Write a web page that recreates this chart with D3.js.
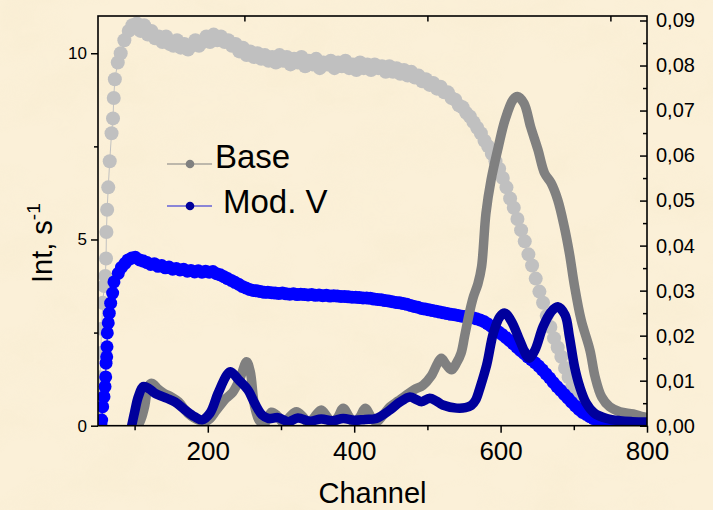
<!DOCTYPE html>
<html>
<head>
<meta charset="utf-8">
<script src="https://cdn.jsdelivr.net/npm/d3@7"></script>
<style>
  html, body { margin: 0; padding: 0; background: #fbf0d9; }
  svg { display: block; font-family: "Liberation Sans", Arial, sans-serif; }
</style>
</head>
<body>
<div id="chart"></div>
<script>
// ---- Tick values ----
const xMajorTicks = [200, 400, 600, 800];
const xMinorTicks = [100, 300, 500, 700];
const xTopTicks = [250, 500, 750];
const leftMajorTicks = [0, 5, 10];
const leftMinorTicks = [2.5, 7.5];
const rightMajorTicks = [0, 0.01, 0.02, 0.03, 0.04, 0.05, 0.06, 0.07, 0.08, 0.09];
const rightMinorTicks = [0.005, 0.015, 0.025, 0.035, 0.045, 0.055, 0.065, 0.075, 0.085];

// ---- Legend ----
const legendLabels = ["Base", "Mod. V"];

// ---- Base spectrum: intensity (s^-1) per channel, left axis ----
const baseChannel = [52, 52.5, 53, 53.5, 55, 56.5, 58.5, 60, 61, 61.5, 62.5, 64, 66, 68.5, 70.5, 71.5, 73, 77, 81, 86, 92, 97, 103,
  108, 113, 118, 123, 128, 133, 138, 143, 148, 153, 158, 163, 168, 173, 178, 183, 188, 193, 198, 203, 208, 213, 218, 223, 228, 233, 238, 243, 248,
  253, 258, 263, 268, 273, 278, 283, 288, 293, 298, 303, 308, 313, 318, 323, 328, 333, 338, 343, 348, 353, 358, 363, 368, 373, 378, 383, 388, 393, 398,
  403, 408, 413, 418, 423, 428, 433, 438, 443, 448, 453, 458, 463, 468, 473, 478, 483, 488, 493, 498, 503, 508, 513, 518, 523, 528, 533, 538, 543, 548,
  553, 558, 563, 568, 573, 578, 583, 588, 593, 598, 603, 608, 613, 618, 623, 628, 633, 638, 643, 648, 653, 658, 663, 668, 673, 678, 683, 688, 693, 698,
  703, 708, 713, 718, 723, 728, 733, 738, 743, 748, 753, 760, 770, 780, 790, 800];
const baseIntensity = [0.2, 0.8, 1.3, 1.95, 2.6, 3.3, 3.75, 4.02, 4.49, 5.2, 5.8, 6.4, 7.1, 7.85, 8.25, 8.8, 9.3, 9.75, 10.0, 10.35, 10.6, 10.75, 10.8,
  10.6, 10.75, 10.5, 10.6, 10.4, 10.45, 10.3, 10.45, 10.25, 10.2, 10.35, 10.15, 10.25, 10.1, 10.2, 10.35, 10.2, 10.3, 10.45, 10.3, 10.5, 10.35, 10.45, 10.3, 10.35, 10.2, 10.25, 10.05, 10.15,
  9.95, 10.05, 9.9, 10.0, 9.85, 9.95, 9.8, 9.9, 9.75, 9.95, 9.8, 9.9, 9.7, 9.85, 9.75, 9.9, 9.65, 9.8, 9.7, 9.85, 9.6, 9.75, 9.7, 9.8, 9.6, 9.75, 9.65, 9.8, 9.6, 9.7,
  9.55, 9.75, 9.6, 9.7, 9.55, 9.7, 9.6, 9.65, 9.5, 9.65, 9.5, 9.6, 9.45, 9.55, 9.4, 9.5, 9.35, 9.4, 9.25, 9.3, 9.15, 9.2, 9.05, 9.1, 8.95, 8.95, 8.8, 8.75, 8.6, 8.55,
  8.4, 8.3, 8.15, 8.0, 7.85, 7.65, 7.5, 7.3, 7.1, 6.9, 6.65, 6.4, 6.1, 5.85, 5.55, 5.25, 4.95, 4.6, 4.3, 3.95, 3.6, 3.3, 2.95, 2.65, 2.35, 2.1, 1.85, 1.55, 1.3, 1.05,
  0.85, 0.7, 0.55, 0.42, 0.33, 0.25, 0.19, 0.15, 0.12, 0.09, 0.08, 0.06, 0.05, 0.04, 0.03, 0.03];

// ---- Mod. V spectrum: intensity (s^-1) per channel, left axis ----
const modChannel = [54, 55, 56.4, 58.2, 59.6, 60.5, 61, 61.9, 62.3, 62.7, 64, 65.4, 67.3, 70, 71.8, 77.7, 82, 86.9, 91, 96, 101, 107,
  112, 117, 122, 127, 132, 137, 142, 147, 152, 157, 162, 167, 172, 177, 182, 187, 192, 197, 202, 207, 212, 217, 222, 227, 232, 237, 242, 247,
  252, 257, 262, 267, 272, 277, 282, 287, 292, 297, 302, 307, 312, 317, 322, 327, 332, 337, 342, 347, 352, 357, 362, 367, 372, 377, 382, 387, 392, 397,
  402, 407, 412, 417, 422, 427, 432, 437, 442, 447, 452, 457, 462, 467, 472, 477, 482, 487, 492, 497, 502, 507, 512, 517, 522, 527, 532, 537, 542, 547,
  552, 557, 562, 567, 572, 577, 582, 587, 592, 597, 602, 607, 612, 617, 622, 627, 632, 637, 642, 647, 652, 657, 662, 667, 672, 677, 682, 687, 692, 697,
  702, 707, 712, 717, 722, 727, 732, 737, 742, 747, 752, 760, 770, 780, 790, 800];
const modIntensity = [0.05, 0.15, 0.51, 0.78, 1.05, 1.31, 1.68, 1.85, 2.12, 2.49, 2.76, 3.02, 3.29, 3.56, 3.86, 4.09, 4.25, 4.36, 4.45, 4.5, 4.52, 4.45,
  4.42, 4.38, 4.33, 4.35, 4.28, 4.3, 4.24, 4.26, 4.2, 4.22, 4.18, 4.2, 4.15, 4.17, 4.13, 4.16, 4.12, 4.15, 4.12, 4.14, 4.08, 4.05, 4.0, 3.95, 3.9, 3.85, 3.8, 3.74,
  3.7, 3.66, 3.63, 3.62, 3.6, 3.58, 3.58, 3.57, 3.56, 3.55, 3.56, 3.54, 3.53, 3.54, 3.52, 3.53, 3.52, 3.51, 3.52, 3.5, 3.51, 3.49, 3.5, 3.48, 3.49, 3.48, 3.47, 3.47, 3.46, 3.45,
  3.45, 3.44, 3.43, 3.43, 3.42, 3.4, 3.39, 3.38, 3.36, 3.35, 3.33, 3.31, 3.3, 3.28, 3.26, 3.23, 3.2, 3.18, 3.15, 3.13, 3.11, 3.09, 3.07, 3.05, 3.03, 3.01, 2.99, 2.98, 2.96, 2.94,
  2.93, 2.91, 2.9, 2.87, 2.84, 2.8, 2.74, 2.67, 2.6, 2.52, 2.45, 2.37, 2.29, 2.2, 2.11, 2.02, 1.94, 1.85, 1.77, 1.69, 1.6, 1.5, 1.39, 1.28, 1.16, 1.05, 0.95, 0.84, 0.74, 0.63,
  0.53, 0.44, 0.36, 0.3, 0.24, 0.19, 0.15, 0.12, 0.1, 0.09, 0.07, 0.06, 0.05, 0.04, 0.03, 0.03];

// ---- Base distribution (right axis) ----
const baseDistChannel = [105, 110, 114, 119, 124, 131, 140, 150, 160, 173, 187, 200, 212, 225, 234, 244, 253, 258, 264, 271, 278,
  287, 295, 304, 312, 321, 330, 338, 346, 355, 363, 370, 378, 385, 393, 400, 408, 415, 423, 430, 440, 449, 460, 471, 482, 494,
  505, 514, 519, 526, 533, 540, 546, 551, 558, 563, 569, 574, 580, 587, 597, 606, 617, 623, 632, 641, 651, 660, 669, 678, 687,
  694, 701, 710, 722, 729, 738, 749, 763, 781, 794, 800];
const baseDistValue = [0, 0.002, 0.0045, 0.0088, 0.0094, 0.0083, 0.0072, 0.0064, 0.0053, 0.0027, 0.0013, 0.0012, 0.0035, 0.0061, 0.0074, 0.0105, 0.0142, 0.012, 0.0043, 0.001, 0.0006,
  0.003, 0.0022, 0.0005, 0.002, 0.0031, 0.002, 0.0005, 0.002, 0.0035, 0.002, 0.0005, 0.002, 0.0039, 0.002, 0.0006, 0.002, 0.0039, 0.002, 0.0008, 0.0025, 0.0042, 0.0055, 0.0068, 0.008, 0.009,
  0.011, 0.0139, 0.015, 0.0135, 0.0124, 0.014, 0.0161, 0.02, 0.0255, 0.0287, 0.0315, 0.0353, 0.0472, 0.0546, 0.062, 0.0679, 0.0724, 0.0731, 0.0716, 0.0664, 0.0613, 0.0561, 0.0539, 0.0502, 0.0442,
  0.0383, 0.031, 0.0235, 0.0168, 0.0109, 0.0064, 0.0042, 0.0031, 0.0026, 0.002, 0.0018];

// ---- Mod. V distribution (right axis) ----
const modDistChannel = [96, 100, 105, 112, 120, 128, 144, 155, 169, 182, 192, 203, 214, 226, 231, 242, 255, 264, 274, 283,
  296, 310, 323, 340, 355, 370, 385, 400, 415, 430, 449, 462, 476, 485, 492, 503, 512, 521, 540, 552, 560, 566, 572, 581,
  590, 599, 606, 615, 626, 635, 639, 647, 658, 669, 678, 688, 694, 701, 708, 717, 728, 745, 763, 780, 800];
const modDistValue = [0, 0.003, 0.0064, 0.0087, 0.0082, 0.0072, 0.0061, 0.0053, 0.0035, 0.002, 0.0013, 0.0028, 0.0072, 0.0113, 0.012, 0.0102, 0.0079, 0.005, 0.0024, 0.0016,
  0.0018, 0.0009, 0.0017, 0.001, 0.0015, 0.0011, 0.0016, 0.0012, 0.0014, 0.0016, 0.0035, 0.0052, 0.0064, 0.0058, 0.0053, 0.0061, 0.0055, 0.0046, 0.0039, 0.004, 0.0045, 0.0057, 0.0085, 0.0135,
  0.0205, 0.0242, 0.025, 0.0231, 0.019, 0.0157, 0.015, 0.0168, 0.022, 0.0253, 0.0264, 0.0246, 0.0198, 0.0131, 0.0087, 0.005, 0.0028, 0.0016, 0.0011, 0.0009, 0.0008];

// ---- Layout ----
const W = 713, H = 510;
const plot = { left: 98, top: 16, right: 647, bottom: 425.7 };

const svg = d3.select("#chart").append("svg")
  .attr("width", W).attr("height", H).attr("viewBox", `0 0 ${W} ${H}`);

const defs = svg.append("defs");

// parchment texture
const paper = defs.append("filter").attr("id", "paper")
  .attr("x", 0).attr("y", 0).attr("width", "100%").attr("height", "100%");
paper.append("feTurbulence").attr("type", "fractalNoise")
  .attr("baseFrequency", "0.012 0.018").attr("numOctaves", 4).attr("seed", 11);
paper.append("feColorMatrix").attr("type", "matrix")
  .attr("values", "0 0 0 0 0.92  0 0 0 0 0.82  0 0 0 0 0.60  1.3 0 0 0 -0.52");

defs.append("clipPath").attr("id", "plotClip")
  .append("rect")
  .attr("x", plot.left).attr("y", plot.top - 8)
  .attr("width", plot.right - plot.left).attr("height", plot.bottom - plot.top + 8);

svg.append("rect").attr("width", W).attr("height", H).attr("fill", "#fbf0d8");
svg.append("rect").attr("width", W).attr("height", H).attr("filter", "url(#paper)").attr("opacity", 0.5);

// ---- Scales ----
const x = d3.scaleLinear().domain([50, 800]).range([plot.left, plot.right]);
const yL = d3.scaleLinear().domain([0, 11]).range([plot.bottom, plot.top]);
const yR = d3.scaleLinear().domain([0, 0.091]).range([plot.bottom, plot.top]);

const zip = (a, b) => a.map((d, i) => [d, b[i]]);
const baseData = zip(baseChannel, baseIntensity);
const modData = zip(modChannel, modIntensity);
const baseDist = zip(baseDistChannel, baseDistValue);
const modDist = zip(modDistChannel, modDistValue);

const plotG = svg.append("g").attr("clip-path", "url(#plotClip)");

// scatter spectra with thin connecting line
function scatter(data, color, r) {
  const g = plotG.append("g");
  g.append("path").datum(data)
    .attr("fill", "none").attr("stroke", color).attr("stroke-width", 1)
    .attr("d", d3.line().x(d => x(d[0])).y(d => yL(d[1])));
  g.selectAll("circle").data(data).join("circle")
    .attr("cx", d => x(d[0])).attr("cy", d => yL(d[1])).attr("r", r)
    .attr("fill", color);
}
scatter(baseData, "#c0c0c0", 7);
scatter(modData, "#0000ff", 6.5);

// distribution curves on the right axis
const distLine = d3.line().x(d => x(d[0])).y(d => yR(d[1])).curve(d3.curveCatmullRom.alpha(0.5));
plotG.append("path").datum(baseDist)
  .attr("fill", "none").attr("stroke", "#808080").attr("stroke-width", 9.5)
  .attr("stroke-linejoin", "round").attr("stroke-linecap", "round")
  .attr("d", distLine);
plotG.append("path").datum(modDist)
  .attr("fill", "none").attr("stroke", "#00009c").attr("stroke-width", 9.5)
  .attr("stroke-linejoin", "round").attr("stroke-linecap", "round")
  .attr("d", distLine);

// ---- Axes ----
function styleAxis(g, size) {
  g.select(".domain").remove();
  g.selectAll(".tick line").attr("stroke", "#000").attr("stroke-width", 1.5);
  g.selectAll(".tick text").attr("fill", "#000").attr("font-size", size)
    .attr("font-family", "'Liberation Sans', Arial, sans-serif");
}

// bottom
svg.append("g").attr("transform", `translate(0,${plot.bottom})`)
  .call(d3.axisBottom(x).tickValues(xMajorTicks).tickSize(7).tickSizeOuter(0).tickPadding(9).tickFormat(d3.format("d")))
  .call(g => styleAxis(g, 26));
svg.append("g").attr("transform", `translate(0,${plot.bottom})`)
  .call(d3.axisBottom(x).tickValues(xMinorTicks).tickSize(4.5).tickSizeOuter(0).tickFormat(""))
  .call(g => styleAxis(g, 0));
// top (inward)
svg.append("g").attr("transform", `translate(0,${plot.top})`)
  .call(d3.axisTop(x).tickValues(xTopTicks).tickSize(-5.5).tickSizeOuter(0).tickFormat(""))
  .call(g => styleAxis(g, 0));
// left
svg.append("g").attr("transform", `translate(${plot.left},0)`)
  .call(d3.axisLeft(yL).tickValues(leftMajorTicks).tickSize(7).tickSizeOuter(0).tickPadding(4).tickFormat(d3.format("d")))
  .call(g => styleAxis(g, 17));
svg.append("g").attr("transform", `translate(${plot.left},0)`)
  .call(d3.axisLeft(yL).tickValues(leftMinorTicks).tickSize(4).tickSizeOuter(0).tickFormat(""))
  .call(g => styleAxis(g, 0));
// right (inward ticks)
const commaFmt = v => d3.format(".2f")(v).replace(".", ",");
svg.append("g").attr("transform", `translate(${plot.right},0)`)
  .call(d3.axisRight(yR).tickValues(rightMajorTicks).tickSize(-7).tickSizeOuter(0).tickPadding(9).tickFormat(commaFmt))
  .call(g => styleAxis(g, 20));
svg.append("g").attr("transform", `translate(${plot.right},0)`)
  .call(d3.axisRight(yR).tickValues(rightMinorTicks).tickSize(-4).tickSizeOuter(0).tickFormat(""))
  .call(g => styleAxis(g, 0));

// frame
svg.append("rect")
  .attr("x", plot.left).attr("y", plot.top)
  .attr("width", plot.right - plot.left).attr("height", plot.bottom - plot.top)
  .attr("fill", "none").attr("stroke", "#000").attr("stroke-width", 1.6);

// ---- Axis titles ----
svg.append("text")
  .attr("x", (plot.left + plot.right) / 2).attr("y", 503)
  .attr("text-anchor", "middle").attr("font-size", 29).attr("fill", "#000")
  .text("Channel");

const yTitle = svg.append("text")
  .attr("transform", "translate(52,283) rotate(-90)")
  .attr("font-size", 29).attr("fill", "#000");
yTitle.append("tspan").text("Int, s");
yTitle.append("tspan").attr("dy", -12).attr("font-size", 19).text("-1");

// ---- Legend ----
const legendItems = [
  { label: legendLabels[0], line: "#808080", dot: "#808080", y: 164, tx: 215, ty: 168 },
  { label: legendLabels[1], line: "#1a1ad6", dot: "#00009c", y: 206, tx: 223, ty: 213 }
];
const lg = svg.append("g");
legendItems.forEach(it => {
  lg.append("line").attr("x1", 167).attr("x2", 212).attr("y1", it.y).attr("y2", it.y)
    .attr("stroke", it.line).attr("stroke-width", 1.2);
  lg.append("circle").attr("cx", 190).attr("cy", it.y).attr("r", 4.3).attr("fill", it.dot);
  lg.append("text").attr("x", it.tx).attr("y", it.ty)
    .attr("font-size", 33).attr("fill", "#000").text(it.label);
});
</script>
</body>
</html>
